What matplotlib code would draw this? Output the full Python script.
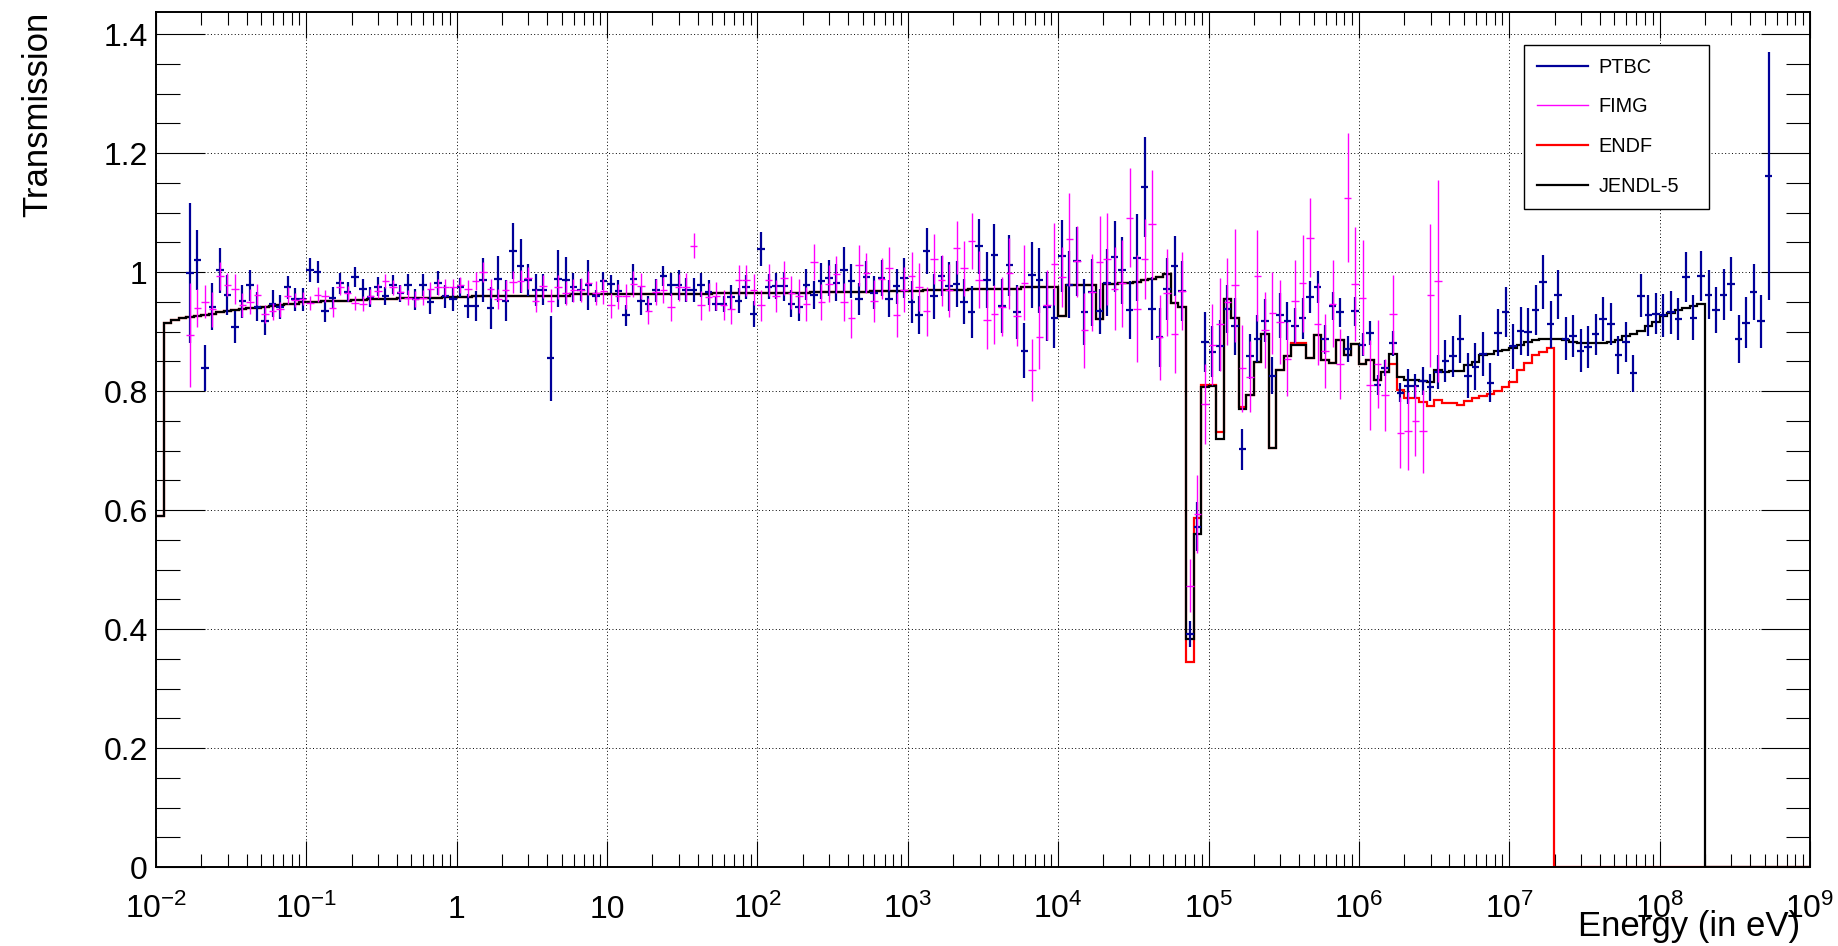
import numpy as np
import matplotlib
matplotlib.use("Agg")
from matplotlib import pyplot as plt
from matplotlib.lines import Line2D
from matplotlib.ticker import LogLocator, MultipleLocator, NullFormatter

plt.rcParams["font.family"] = "Liberation Sans"
plt.rcParams["mathtext.fontset"] = "custom"
plt.rcParams["mathtext.rm"] = "Liberation Sans"
plt.rcParams["mathtext.it"] = "Liberation Sans:italic"
plt.rcParams["mathtext.bf"] = "Liberation Sans:bold"

# 20 bins per decade from 1e-2 to 1e9 eV
edges = np.logspace(-2, 9, 221)

# JENDL-5 transmission per bin
jendl = ([0.590, 0.915, 0.919, 0.922, 0.924, 0.926, 0.928, 0.930, 0.932, 0.934,
          0.936, 0.937, 0.939, 0.940, 0.942, 0.943, 0.945, 0.946, 0.947, 0.949,
          0.950, 0.950, 0.951, 0.951, 0.952, 0.952, 0.953, 0.953, 0.954, 0.954,
          0.955, 0.955, 0.956, 0.956, 0.956, 0.957, 0.957, 0.957, 0.958, 0.958,
          0.958, 0.958, 0.959, 0.959, 0.959, 0.959]
         + [0.960] * 9 + [0.9625] * 19 + [0.9647] * 13 + [0.9664] * 8
         + [0.968] * 7 + [0.970] * 6 + [0.972] * 7 + [0.975] * 5
         + [0.9255, 0.9776, 0.9776, 0.978, 0.978, 0.9205, 0.9793, 0.980, 0.9815, 0.982,
            0.984, 0.986, 0.9877, 0.9916, 0.9961, 0.9486, 0.941, 0.383, 0.560, 0.807,
            0.8085, 0.720, 0.955, 0.923, 0.770, 0.793, 0.848, 0.895, 0.705, 0.835,
            0.859, 0.878, 0.878, 0.855, 0.8936, 0.8516, 0.847, 0.886, 0.860, 0.8785,
            0.846, 0.8516, 0.818, 0.832, 0.863, 0.8235, 0.819, 0.819, 0.816, 0.815,
            0.835, 0.832, 0.834, 0.834, 0.843, 0.848, 0.860, 0.863, 0.867, 0.8696,
            0.872, 0.877, 0.882, 0.885, 0.887, 0.888, 0.888, 0.886, 0.883, 0.881,
            0.880, 0.880, 0.881, 0.882, 0.886, 0.892, 0.896, 0.901, 0.9087, 0.916,
            0.9255, 0.931, 0.9356, 0.940, 0.943, 0.9457]
         + [0.0] * 14)

# ENDF: same as JENDL-5 below the 75 keV dip
endf = (jendl[:137]
        + [0.345, 0.587, 0.810, 0.810, 0.731, 0.955, 0.923, 0.773, 0.793, 0.848,
           0.895, 0.705, 0.835, 0.859, 0.881, 0.881, 0.855, 0.8936, 0.8516, 0.847,
           0.886, 0.860, 0.8785, 0.846, 0.8516, 0.818, 0.832, 0.846, 0.802, 0.788,
           0.788, 0.7815, 0.775, 0.7855, 0.780, 0.780, 0.776, 0.784, 0.788, 0.791,
           0.7945, 0.800, 0.807, 0.815, 0.835, 0.847, 0.860, 0.8655, 0.872]
        + [0.0] * 34)

# PTBC data, bins 4..214
ptbc_first = 4
ptbc = [0.998, 1.020, 0.839, 0.942, 1.003, 0.961, 0.908, 0.951, 0.978, 0.942,
        0.917, 0.947, 0.941, 0.974, 0.954, 0.954, 1.003, 1.000, 0.934, 0.957,
        0.981, 0.966, 0.992, 0.972, 0.958, 0.975, 0.959, 0.979, 0.964, 0.979,
        0.954, 0.978, 0.950, 0.981, 0.959, 0.955, 0.974, 0.943, 0.943, 0.986,
        0.940, 0.988, 0.952, 1.035, 1.010, 0.986, 0.970, 0.970, 0.855, 0.989,
        0.986, 0.974, 0.970, 0.978, 0.959, 0.985, 0.980, 0.968, 0.927, 0.989,
        0.952, 0.947, 0.969, 0.993, 0.979, 0.978, 0.970, 0.970, 0.978, 0.966,
        0.947, 0.946, 0.958, 0.952, 0.975, 0.929, 1.039, 0.975, 0.976, 0.976,
        0.947, 0.942, 0.979, 0.961, 0.985, 0.990, 0.982, 1.004, 0.985, 0.954,
        0.992, 0.965, 0.990, 0.955, 0.976, 0.990, 0.950, 0.927, 1.035, 0.959,
        0.993, 0.976, 0.980, 0.950, 0.933, 1.043, 0.987, 1.028, 0.943, 1.011,
        0.933, 0.868, 0.995, 0.986, 0.942, 0.922, 1.027, 0.979, 1.018, 0.933,
        0.966, 0.934, 0.982, 1.026, 1.003, 0.936, 1.024, 1.143, 0.938, 0.890,
        0.971, 1.010, 0.968, 0.392, 0.572, 0.882, 0.866, 0.876, 0.938, 0.909,
        0.702, 0.858, 0.888, 0.918, 0.826, 0.927, 0.918, 0.910, 0.922, 0.958,
        0.975, 0.887, 0.943, 0.932, 0.871, 0.934, 0.878, 0.898, 0.810, 0.839,
        0.880, 0.797, 0.808, 0.808, 0.817, 0.806, 0.832, 0.850, 0.858, 0.887,
        0.826, 0.841, 0.862, 0.814, 0.898, 0.933, 0.875, 0.901, 0.899, 0.936,
        0.983, 0.912, 0.962, 0.888, 0.892, 0.868, 0.874, 0.895, 0.921, 0.913,
        0.861, 0.882, 0.830, 0.960, 0.927, 0.930, 0.927, 0.932, 0.921, 0.991,
        0.923, 0.993, 0.962, 0.936, 0.962, 0.980, 0.887, 0.915, 0.966, 0.917,
        1.161]
ptbc_err = [0.118, 0.050, 0.039, 0.039, 0.038, 0.034, 0.027, 0.028, 0.026, 0.024,
            0.023, 0.022, 0.020, 0.020, 0.019, 0.019, 0.020, 0.018, 0.018, 0.018,
            0.018, 0.017, 0.017, 0.017, 0.016, 0.016, 0.015, 0.016, 0.015, 0.018,
            0.018, 0.019, 0.021, 0.020, 0.019, 0.020, 0.016, 0.020, 0.025, 0.037,
            0.035, 0.039, 0.035, 0.047, 0.046, 0.027, 0.027, 0.026, 0.071, 0.048,
            0.039, 0.024, 0.019, 0.042, 0.010, 0.015, 0.015, 0.018, 0.017, 0.025,
            0.024, 0.012, 0.020, 0.017, 0.020, 0.025, 0.020, 0.020, 0.020, 0.021,
            0.012, 0.014, 0.020, 0.021, 0.020, 0.022, 0.029, 0.021, 0.022, 0.024,
            0.022, 0.024, 0.026, 0.024, 0.030, 0.031, 0.031, 0.038, 0.028, 0.027,
            0.027, 0.028, 0.030, 0.031, 0.029, 0.034, 0.035, 0.032, 0.039, 0.038,
            0.034, 0.041, 0.039, 0.038, 0.044, 0.046, 0.047, 0.052, 0.045, 0.052,
            0.046, 0.046, 0.055, 0.055, 0.058, 0.049, 0.060, 0.056, 0.058, 0.055,
            0.056, 0.038, 0.056, 0.059, 0.056, 0.049, 0.073, 0.084, 0.053, 0.049,
            0.052, 0.051, 0.050, 0.022, 0.041, 0.050, 0.043, 0.043, 0.040, 0.048,
            0.034, 0.038, 0.039, 0.036, 0.031, 0.038, 0.032, 0.030, 0.034, 0.027,
            0.027, 0.024, 0.023, 0.024, 0.022, 0.024, 0.020, 0.020, 0.017, 0.013,
            0.021, 0.016, 0.029, 0.020, 0.024, 0.022, 0.028, 0.035, 0.034, 0.040,
            0.038, 0.039, 0.037, 0.033, 0.039, 0.042, 0.038, 0.041, 0.041, 0.042,
            0.045, 0.040, 0.041, 0.036, 0.035, 0.036, 0.035, 0.034, 0.037, 0.035,
            0.032, 0.034, 0.031, 0.036, 0.034, 0.034, 0.036, 0.036, 0.036, 0.042,
            0.038, 0.042, 0.041, 0.039, 0.043, 0.046, 0.040, 0.043, 0.047, 0.044,
            0.208]

# FIMG data, bins 4..170
fimg_first = 4
fimg = [0.894, 0.940, 0.950, 0.937, 0.993, 0.979, 0.971, 0.944, 0.950, 0.962,
        0.929, 0.934, 0.937, 0.960, 0.953, 0.955, 0.948, 0.962, 0.960, 0.940,
        0.974, 0.964, 0.948, 0.947, 0.959, 0.968, 0.985, 0.974, 0.966, 0.957,
        0.955, 0.957, 0.971, 0.975, 0.974, 0.975, 0.978, 0.972, 0.985, 1.000,
        0.972, 0.954, 0.969, 0.983, 0.985, 0.990, 0.952, 0.976, 0.952, 0.975,
        0.965, 0.969, 0.970, 0.982, 0.965, 0.968, 0.944, 0.959, 0.959, 0.980,
        0.976, 0.934, 0.966, 0.970, 0.941, 0.974, 0.975, 1.044, 0.944, 0.958,
        0.960, 0.945, 0.938, 0.987, 0.986, 0.970, 0.944, 0.986, 0.959, 0.990,
        0.965, 0.960, 0.946, 1.017, 0.950, 0.980, 0.996, 0.950, 0.922, 1.011,
        0.998, 0.951, 0.989, 1.006, 0.927, 0.970, 0.994, 0.975, 0.934, 1.022,
        0.986, 0.969, 1.041, 1.006, 1.052, 0.987, 0.920, 0.929, 0.942, 0.998,
        0.926, 0.982, 0.835, 0.890, 0.944, 1.013, 0.992, 1.055, 1.018, 0.902,
        0.966, 1.017, 1.022, 0.972, 0.981, 1.091, 0.938, 1.022, 1.080, 0.890,
        0.965, 0.896, 0.968, 0.473, 0.593, 0.778, 0.878, 0.912, 0.950, 0.978,
        0.838, 0.824, 0.994, 0.903, 0.931, 0.916, 0.854, 0.951, 0.981, 1.058,
        0.912, 0.867, 0.947, 0.845, 1.125, 0.980, 0.957, 0.810, 0.846, 0.793,
        0.929, 0.730, 0.733, 0.750, 0.732, 0.961, 0.985]
fimg_err = [0.087, 0.032, 0.028, 0.030, 0.024, 0.020, 0.025, 0.020, 0.021, 0.018,
            0.015, 0.014, 0.013, 0.014, 0.011, 0.011, 0.012, 0.012, 0.010, 0.015,
            0.012, 0.012, 0.012, 0.012, 0.012, 0.012, 0.012, 0.013, 0.013, 0.013,
            0.013, 0.013, 0.013, 0.013, 0.014, 0.014, 0.014, 0.014, 0.015, 0.016,
            0.016, 0.017, 0.017, 0.018, 0.018, 0.018, 0.019, 0.019, 0.019, 0.020,
            0.020, 0.020, 0.020, 0.020, 0.020, 0.021, 0.021, 0.021, 0.021, 0.022,
            0.022, 0.022, 0.022, 0.022, 0.023, 0.023, 0.023, 0.021, 0.024, 0.024,
            0.024, 0.025, 0.025, 0.025, 0.026, 0.026, 0.026, 0.027, 0.027, 0.028,
            0.028, 0.029, 0.029, 0.030, 0.030, 0.031, 0.031, 0.032, 0.033, 0.034,
            0.034, 0.035, 0.035, 0.036, 0.037, 0.038, 0.039, 0.040, 0.041, 0.042,
            0.043, 0.044, 0.045, 0.046, 0.047, 0.048, 0.049, 0.050, 0.050, 0.060,
            0.050, 0.063, 0.052, 0.053, 0.059, 0.069, 0.050, 0.078, 0.060, 0.063,
            0.065, 0.077, 0.077, 0.070, 0.073, 0.083, 0.090, 0.067, 0.092, 0.071,
            0.073, 0.065, 0.065, 0.045, 0.066, 0.067, 0.068, 0.078, 0.073, 0.095,
            0.073, 0.060, 0.076, 0.064, 0.069, 0.070, 0.062, 0.070, 0.082, 0.066,
            0.069, 0.062, 0.073, 0.059, 0.109, 0.096, 0.097, 0.076, 0.074, 0.060,
            0.066, 0.060, 0.065, 0.060, 0.070, 0.120, 0.170]

legend_labels = ["PTBC", "FIMG", "ENDF", "JENDL-5"]
ptbc_color = "#000099"
fimg_color = "#ff00ff"

fig = plt.figure(figsize=(18.38, 9.46), dpi=100)
ax = fig.add_axes([156 / 1838, 1 - 867 / 946, 1654 / 1838, 855 / 946])


def draw_points(first, vals, errs, color, lw):
    lo = edges[first:first + len(vals)]
    hi = edges[first + 1:first + len(vals) + 1]
    x = np.sqrt(lo * hi)
    ax.errorbar(x, vals, yerr=errs, xerr=[x - lo, hi - x], fmt="none",
                ecolor=color, elinewidth=lw, capsize=0)


draw_points(ptbc_first, ptbc, ptbc_err, ptbc_color, 1.6)
draw_points(fimg_first, fimg, fimg_err, fimg_color, 1.0)
ax.stairs(endf, edges, color="red", lw=1.6, baseline=None)
ax.stairs(jendl, edges, color="black", lw=1.6, baseline=None)

ax.set_xscale("log")
ax.set_xlim(1e-2, 1e9)
ax.set_ylim(0, 1.437)

xt = [10.0 ** p for p in range(-2, 10)]
xl = [r"$10^{-2}$", r"$10^{-1}$", "1", "10"] + [r"$10^{%d}$" % p for p in range(2, 10)]
ax.set_xticks(xt)
ax.set_xticklabels(xl, fontsize=23, va="baseline")
ax.xaxis.set_minor_locator(LogLocator(base=10, subs=np.arange(2, 10), numticks=100))
ax.xaxis.set_minor_formatter(NullFormatter())

yt = [0, 0.2, 0.4, 0.6, 0.8, 1.0, 1.2, 1.4]
ax.set_yticks(yt)
ax.set_yticklabels(["0", "0.2", "0.4", "0.6", "0.8", "1", "1.2", "1.4"], fontsize=23)
ax.yaxis.set_minor_locator(MultipleLocator(0.05))

ax.tick_params(which="both", direction="in", top=True, right=True, width=0.8)
ax.tick_params(axis="x", which="major", length=18.7, pad=37)
ax.tick_params(axis="x", which="minor", length=9.4)
ax.tick_params(axis="y", which="major", length=35, pad=6)
ax.tick_params(axis="y", which="minor", length=17.5)
for s in ax.spines.values():
    s.set_linewidth(1.4)

ax.set_axisbelow(True)
ax.grid(True, which="major", color="black", linestyle=(0, (1, 2.5)), linewidth=0.7)

fig.text(37.5 / 1838, 1 - 12 / 946, "Transmission", rotation=90,
         ha="center", va="top", fontsize=25)
fig.text(1800 / 1838, 1 - 926 / 946, "Energy (in eV)", ha="right", va="center",
         fontsize=25)

handles = [Line2D([], [], color=ptbc_color, lw=1.6),
           Line2D([], [], color=fimg_color, lw=1.0),
           Line2D([], [], color="red", lw=1.6),
           Line2D([], [], color="black", lw=1.6)]
leg = ax.legend(handles, legend_labels, loc="upper left",
                bbox_to_anchor=(1524 / 1838, 1 - 207 / 946, 185 / 1838, 162 / 946),
                bbox_transform=fig.transFigure, mode="expand", borderaxespad=0,
                fontsize=14.3, handlelength=2.58, handletextpad=0.54,
                labelspacing=1.05, borderpad=0.63, fancybox=False, framealpha=1)
leg.get_frame().set_edgecolor("black")
leg.get_frame().set_linewidth(1.0)

fig.savefig("out.png", dpi=100)
